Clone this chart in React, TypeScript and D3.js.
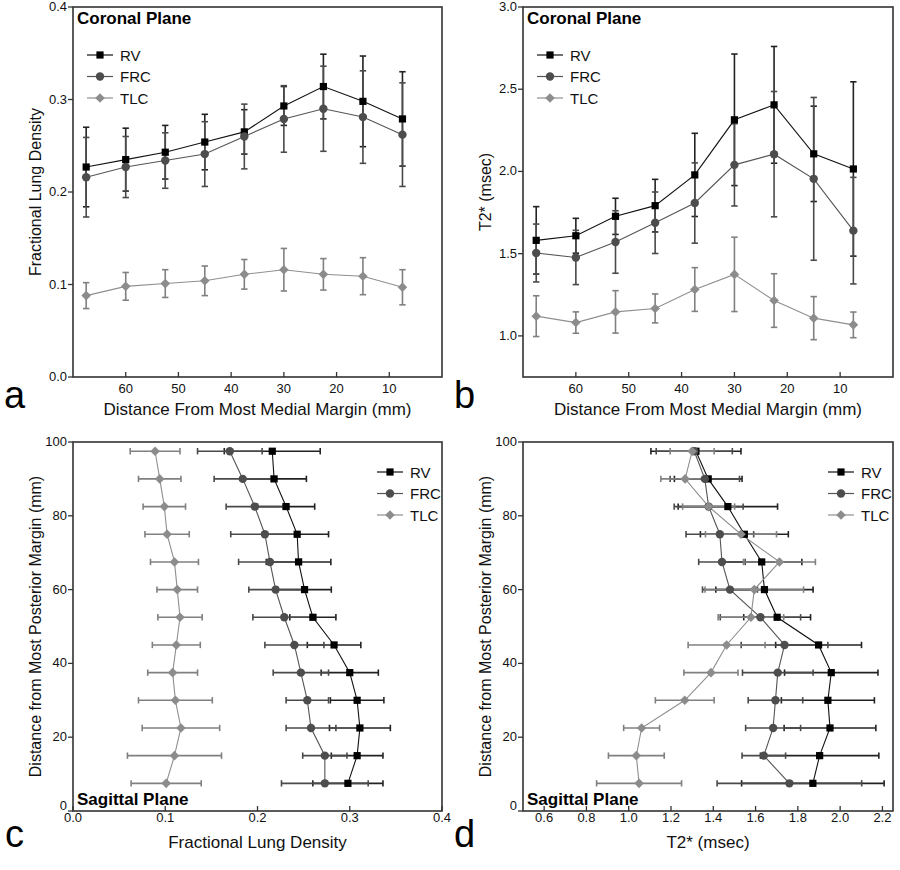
import React from "react";
import * as d3 from "d3";

// ---------- DATA ----------
const series = ["RV", "FRC", "TLC"];

// Coronal plane: distance from most medial margin (mm)
const coronalPos = [67.5, 60, 52.5, 45, 37.5, 30, 22.5, 15, 7.5];
const coronalXTicks = [60, 50, 40, 30, 20, 10];

// (a) Fractional lung density, coronal
const aRV = [0.227, 0.235, 0.243, 0.254, 0.265, 0.293, 0.314, 0.298, 0.279];
const aRVErr = [0.043, 0.034, 0.029, 0.03, 0.024, 0.021, 0.035, 0.049, 0.051];
const aFRC = [0.216, 0.227, 0.234, 0.241, 0.26, 0.279, 0.29, 0.281, 0.262];
const aFRCErr = [0.043, 0.033, 0.03, 0.035, 0.035, 0.036, 0.046, 0.05, 0.056];
const aTLC = [0.088, 0.098, 0.101, 0.104, 0.111, 0.116, 0.111, 0.109, 0.097];
const aTLCErr = [0.014, 0.015, 0.015, 0.016, 0.016, 0.023, 0.017, 0.02, 0.019];
const aYTicks = [0, 0.1, 0.2, 0.3, 0.4];

// (b) T2* (msec), coronal
const bRV = [1.581, 1.609, 1.727, 1.792, 1.979, 2.314, 2.405, 2.107, 2.015];
const bRVErr = [0.205, 0.106, 0.11, 0.16, 0.253, 0.4, 0.355, 0.29, 0.53];
const bFRC = [1.504, 1.477, 1.571, 1.688, 1.808, 2.04, 2.105, 1.955, 1.64];
const bFRCErr = [0.176, 0.165, 0.19, 0.187, 0.244, 0.25, 0.381, 0.495, 0.324];
const bTLC = [1.12, 1.081, 1.146, 1.167, 1.282, 1.374, 1.215, 1.108, 1.067];
const bTLCErr = [0.124, 0.065, 0.129, 0.088, 0.133, 0.226, 0.163, 0.131, 0.078];
const bYTicks = [1.0, 1.5, 2.0, 2.5, 3.0];

// Sagittal plane: distance from most posterior margin (mm)
const sagittalPos = [97.5, 90, 82.5, 75, 67.5, 60, 52.5, 45, 37.5, 30, 22.5, 15, 7.5];
const sagittalYTicks = [0, 20, 40, 60, 80, 100];

// (c) Fractional lung density, sagittal
const cRV = [0.216, 0.218, 0.231, 0.243, 0.2445, 0.251, 0.26, 0.283, 0.3, 0.308, 0.311, 0.308, 0.298];
const cRVErr = [0.052, 0.035, 0.031, 0.034, 0.035, 0.029, 0.025, 0.029, 0.031, 0.029, 0.033, 0.028, 0.038];
const cFRC = [0.17, 0.184, 0.197, 0.208, 0.2135, 0.2196, 0.229, 0.24, 0.247, 0.254, 0.258, 0.273, 0.273];
const cFRCErr = [0.035, 0.031, 0.031, 0.037, 0.034, 0.029, 0.034, 0.032, 0.03, 0.023, 0.027, 0.024, 0.047];
const cTLC = [0.089, 0.094, 0.099, 0.102, 0.11, 0.113, 0.116, 0.112, 0.108, 0.111, 0.117, 0.11, 0.101];
const cTLCErr = [0.027, 0.023, 0.023, 0.024, 0.026, 0.022, 0.024, 0.026, 0.027, 0.04, 0.042, 0.051, 0.038];
const cXTicks = [0, 0.1, 0.2, 0.3, 0.4];

// (d) T2* (msec), sagittal
const dRV = [1.318, 1.376, 1.469, 1.547, 1.629, 1.642, 1.702, 1.898, 1.958, 1.942, 1.952, 1.903, 1.871];
const dRVErr = [0.213, 0.16, 0.235, 0.208, 0.19, 0.23, 0.158, 0.203, 0.221, 0.22, 0.217, 0.28, 0.337];
const dFRC = [1.31, 1.36, 1.378, 1.431, 1.441, 1.479, 1.623, 1.737, 1.705, 1.694, 1.683, 1.639, 1.76];
const dFRCErr = [0.18, 0.164, 0.163, 0.16, 0.11, 0.13, 0.19, 0.205, 0.167, 0.129, 0.13, 0.103, 0.342];
const dTLC = [1.3, 1.267, 1.378, 1.531, 1.713, 1.594, 1.578, 1.463, 1.389, 1.265, 1.061, 1.036, 1.049];
const dTLCErr = [0.104, 0.115, 0.123, 0.168, 0.17, 0.233, 0.155, 0.182, 0.128, 0.139, 0.085, 0.132, 0.201];
const dXTicks = [0.6, 0.8, 1.0, 1.2, 1.4, 1.6, 1.8, 2.0, 2.2];

// ---------- STYLE ----------
const FONT = "'Liberation Sans', Arial, Helvetica, sans-serif";
const STYLES: Record<string, { line: string; err: string; fill: string; shape: string }> = {
  RV: { line: "#111", err: "#222", fill: "#000", shape: "square" },
  FRC: { line: "#555", err: "#4a4a4a", fill: "#4d4d4d", shape: "circle" },
  TLC: { line: "#8f8f8f", err: "#808080", fill: "#8c8c8c", shape: "diamond" },
};

function Marker({ shape, x, y, fill }: { shape: string; x: number; y: number; fill: string }) {
  if (shape === "square") return <rect x={x - 3.6} y={y - 3.6} width={7.2} height={7.2} fill={fill} />;
  if (shape === "circle") return <circle cx={x} cy={y} r={4.2} fill={fill} />;
  const s = 4.8;
  return <path d={`M${x},${y - s}L${x + s},${y}L${x},${y + s}L${x - s},${y}Z`} fill={fill} />;
}

type Series = { name: string; vals: number[]; errs: number[] };

type PanelProps = {
  left: number; right: number; top: number; bottom: number;
  orient: "coronal" | "sagittal";
  pos: number[];
  posDomain: [number, number];
  valDomain: [number, number];
  posTicks: number[];
  valTicks: number[];
  valFmt: (v: number) => string;
  posFmt: (v: number) => string;
  data: Series[];
  title: string;
  xTitle: string;
  yTitle: string;
  letter: string;
  letterX: number;
  letterY: number;
};

function Panel(p: PanelProps) {
  const coronal = p.orient === "coronal";
  const xDom = coronal ? p.posDomain : p.valDomain;
  const yDom = coronal ? p.valDomain : p.posDomain;
  const x = d3.scaleLinear().domain(xDom).range([p.left, p.right]);
  const y = d3.scaleLinear().domain(yDom).range([p.bottom, p.top]);
  const xTicks = coronal ? p.posTicks : p.valTicks;
  const yTicks = coronal ? p.valTicks : p.posTicks;
  const xFmt = coronal ? p.posFmt : p.valFmt;
  const yFmt = coronal ? p.valFmt : p.posFmt;
  const tl = 5;
  const cap = 3.2;

  const line = d3
    .line<[number, number]>()
    .x((d) => d[0])
    .y((d) => d[1]);

  const legendX = coronal ? p.left + 14 : p.right - 65;
  const legendY0 = coronal ? p.top + 48 : p.top + 30;
  const xLabelDy = coronal ? 16 : 11;

  return (
    <g>
      {/* frame */}
      <rect x={p.left} y={p.top} width={p.right - p.left} height={p.bottom - p.top} fill="none" stroke="#333" strokeWidth={1.6} />
      {/* x ticks (inward) */}
      {xTicks.map((t) => (
        <g key={"xt" + t}>
          <line x1={x(t)} x2={x(t)} y1={p.bottom} y2={p.bottom - tl} stroke="#333" strokeWidth={1.3} />
          <text x={x(t)} y={p.bottom + xLabelDy} textAnchor="middle" fontSize={13} fontFamily={FONT} fill="#111">
            {xFmt(t)}
          </text>
        </g>
      ))}
      {/* y ticks (outward) */}
      {yTicks.map((t) => (
        <g key={"yt" + t}>
          <line x1={p.left - tl} x2={p.left} y1={y(t)} y2={y(t)} stroke="#333" strokeWidth={1.3} />
          <text
            x={p.left - 6}
            y={y(t) + (!coronal && t === 0 ? -1 : 4)}
            textAnchor="end"
            fontSize={13}
            fontFamily={FONT}
            fill="#111"
          >
            {yFmt(t)}
          </text>
        </g>
      ))}
      {/* error bars */}
      {p.data.map((s) => {
        const st = STYLES[s.name];
        return (
          <g key={"e" + s.name} stroke={st.err} strokeWidth={1.6}>
            {s.vals.map((v, i) => {
              const e = s.errs[i];
              if (coronal) {
                const cx = x(p.pos[i]);
                const y1 = y(v - e), y2 = y(v + e);
                return (
                  <g key={i}>
                    <line x1={cx} x2={cx} y1={y1} y2={y2} />
                    <line x1={cx - cap} x2={cx + cap} y1={y1} y2={y1} />
                    <line x1={cx - cap} x2={cx + cap} y1={y2} y2={y2} />
                  </g>
                );
              }
              const cy = y(p.pos[i]);
              const x1 = x(v - e), x2 = x(v + e);
              return (
                <g key={i}>
                  <line x1={x1} x2={x2} y1={cy} y2={cy} />
                  <line x1={x1} x2={x1} y1={cy - cap} y2={cy + cap} />
                  <line x1={x2} x2={x2} y1={cy - cap} y2={cy + cap} />
                </g>
              );
            })}
          </g>
        );
      })}
      {/* lines */}
      {p.data.map((s) => {
        const st = STYLES[s.name];
        const pts: [number, number][] = s.vals.map((v, i) =>
          coronal ? [x(p.pos[i]), y(v)] : [x(v), y(p.pos[i])]
        );
        return <path key={"l" + s.name} d={line(pts) || ""} fill="none" stroke={st.line} strokeWidth={1.1} />;
      })}
      {/* markers */}
      {p.data.map((s) => {
        const st = STYLES[s.name];
        return (
          <g key={"m" + s.name}>
            {s.vals.map((v, i) => (
              <Marker
                key={i}
                shape={st.shape}
                fill={st.fill}
                x={coronal ? x(p.pos[i]) : x(v)}
                y={coronal ? y(v) : y(p.pos[i])}
              />
            ))}
          </g>
        );
      })}
      {/* legend */}
      {series.map((name, i) => {
        const st = STYLES[name];
        const ly = legendY0 + i * 21.5;
        return (
          <g key={"lg" + name}>
            <line x1={legendX} x2={legendX + 26} y1={ly} y2={ly} stroke={st.line} strokeWidth={1.2} />
            <Marker shape={st.shape} fill={st.fill} x={legendX + 13} y={ly} />
            <text x={legendX + 33} y={ly + 5.5} fontSize={15} fontFamily={FONT} fill="#111">
              {name}
            </text>
          </g>
        );
      })}
      {/* panel title */}
      <text
        x={p.left + 4}
        y={coronal ? p.top + 17 : p.bottom - 6}
        fontSize={17}
        fontWeight="bold"
        fontFamily={FONT}
        fill="#000"
      >
        {p.title}
      </text>
      {/* axis titles */}
      <text
        x={(p.left + p.right) / 2}
        y={p.bottom + (coronal ? 38 : 37)}
        textAnchor="middle"
        fontSize={17}
        fontFamily={FONT}
        fill="#111"
      >
        {p.xTitle}
      </text>
      <text
        transform={`translate(${p.left - 32},${(p.top + p.bottom) / 2}) rotate(-90)`}
        textAnchor="middle"
        fontSize={16}
        fontFamily={FONT}
        fill="#111"
      >
        {p.yTitle}
      </text>
      <text x={p.letterX} y={p.letterY} fontSize={38} fontFamily={FONT} fill="#000">
        {p.letter}
      </text>
    </g>
  );
}

const f1 = d3.format(".1f");
const f0 = d3.format("d");

export default function App() {
  return (
    <svg width={900} height={870} style={{ position: "absolute", left: 0, top: 0, background: "#fff" }}>
      <rect x={0} y={0} width={900} height={870} fill="#fff" />
      <Panel
        left={73} right={442} top={7} bottom={377}
        orient="coronal"
        pos={coronalPos}
        posDomain={[70, 0]}
        valDomain={[0, 0.4]}
        posTicks={coronalXTicks}
        valTicks={aYTicks}
        valFmt={f1}
        posFmt={f0}
        data={[
          { name: "RV", vals: aRV, errs: aRVErr },
          { name: "FRC", vals: aFRC, errs: aFRCErr },
          { name: "TLC", vals: aTLC, errs: aTLCErr },
        ]}
        title="Coronal Plane"
        xTitle="Distance From Most Medial Margin (mm)"
        yTitle="Fractional Lung Density"
        letter="a"
        letterX={4}
        letterY={408}
      />
      <Panel
        left={523} right={893} top={7} bottom={377}
        orient="coronal"
        pos={coronalPos}
        posDomain={[70, 0]}
        valDomain={[0.75, 3.0]}
        posTicks={coronalXTicks}
        valTicks={bYTicks}
        valFmt={f1}
        posFmt={f0}
        data={[
          { name: "RV", vals: bRV, errs: bRVErr },
          { name: "FRC", vals: bFRC, errs: bFRCErr },
          { name: "TLC", vals: bTLC, errs: bTLCErr },
        ]}
        title="Coronal Plane"
        xTitle="Distance From Most Medial Margin (mm)"
        yTitle="T2* (msec)"
        letter="b"
        letterX={454}
        letterY={408}
      />
      <Panel
        left={73} right={442} top={442} bottom={811}
        orient="sagittal"
        pos={sagittalPos}
        posDomain={[0, 100]}
        valDomain={[0, 0.4]}
        posTicks={sagittalYTicks}
        valTicks={cXTicks}
        valFmt={f1}
        posFmt={f0}
        data={[
          { name: "RV", vals: cRV, errs: cRVErr },
          { name: "FRC", vals: cFRC, errs: cFRCErr },
          { name: "TLC", vals: cTLC, errs: cTLCErr },
        ]}
        title="Sagittal Plane"
        xTitle="Fractional Lung Density"
        yTitle="Distance from Most Posterior Margin (mm)"
        letter="c"
        letterX={5}
        letterY={847}
      />
      <Panel
        left={523} right={893} top={442} bottom={811}
        orient="sagittal"
        pos={sagittalPos}
        posDomain={[0, 100]}
        valDomain={[0.5, 2.25]}
        posTicks={sagittalYTicks}
        valTicks={dXTicks}
        valFmt={f1}
        posFmt={f0}
        data={[
          { name: "RV", vals: dRV, errs: dRVErr },
          { name: "FRC", vals: dFRC, errs: dFRCErr },
          { name: "TLC", vals: dTLC, errs: dTLCErr },
        ]}
        title="Sagittal Plane"
        xTitle="T2* (msec)"
        yTitle="Distance from Most Posterior Margin (mm)"
        letter="d"
        letterX={454}
        letterY={847}
      />
    </svg>
  );
}
